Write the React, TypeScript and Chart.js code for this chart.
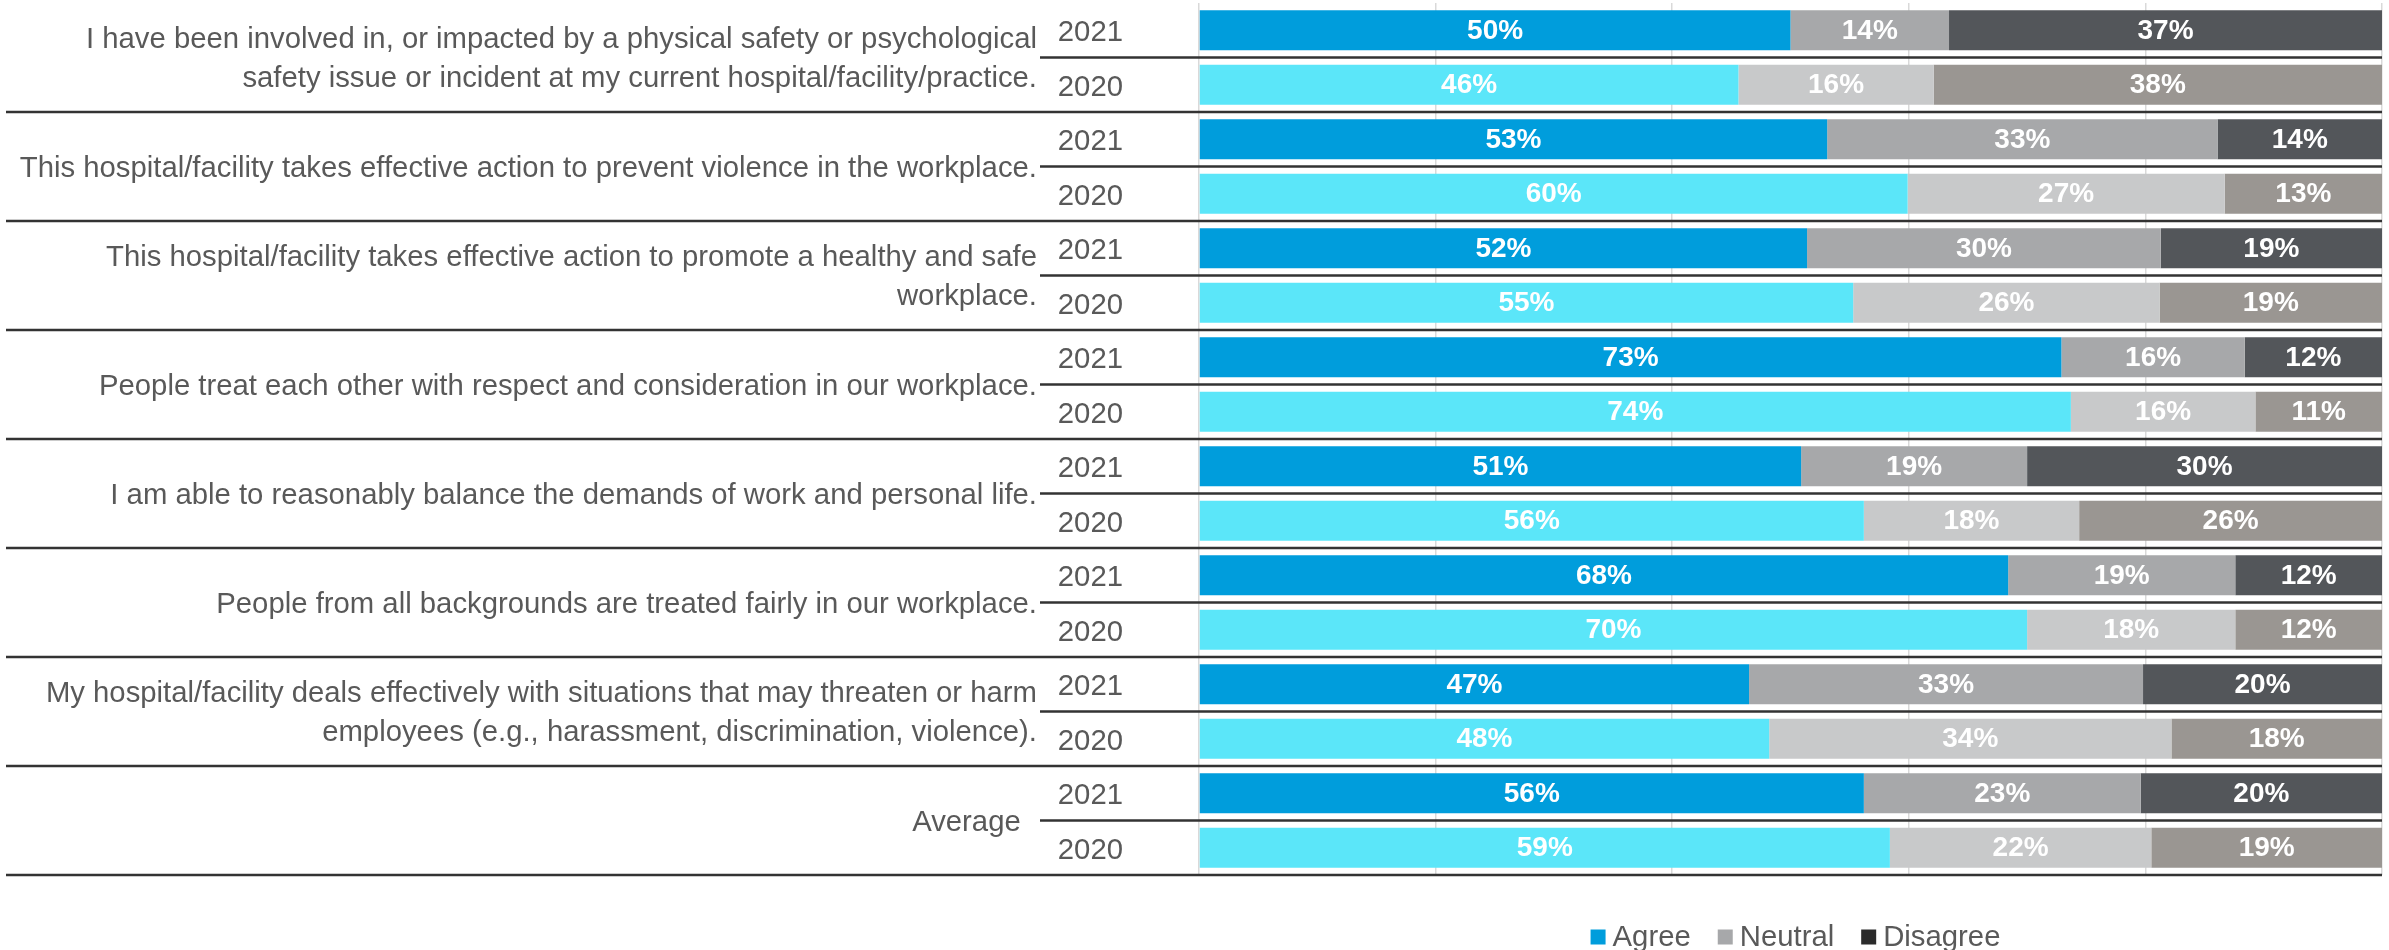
import React, { useEffect, useRef } from 'react';
import { Chart, registerables } from 'chart.js';

Chart.register(...registerables);

// ---- Data ----
const questions: string[][] = [
  ['I have been involved in, or impacted by a physical safety or psychological', 'safety issue or incident at my current hospital/facility/practice.'],
  ['This hospital/facility takes effective action to prevent violence in the workplace.'],
  ['This hospital/facility takes effective action to promote a healthy and safe', 'workplace.'],
  ['People treat each other with respect and consideration in our workplace.'],
  ['I am able to reasonably balance the demands of work and personal life.'],
  ['People from all backgrounds are treated fairly in our workplace.'],
  ['My hospital/facility deals effectively with situations that may threaten or harm', 'employees (e.g., harassment, discrimination, violence).'],
  ['Average  '],
];
const years = ['2021', '2020'];
const seriesNames = ['Agree', 'Neutral', 'Disagree'];

const agree2021 = [50.0, 53.1, 51.4, 72.9, 50.9, 68.4, 46.5, 56.2];
const neutral2021 = [13.4, 33.0, 29.9, 15.5, 19.1, 19.2, 33.3, 23.4];
const disagree2021 = [36.6, 13.9, 18.7, 11.6, 30.0, 12.4, 20.2, 20.4];
const agree2020 = [45.6, 59.9, 55.3, 73.7, 56.2, 70.0, 48.2, 58.4];
const neutral2020 = [16.5, 26.8, 25.9, 15.6, 18.2, 17.6, 34.0, 22.1];
const disagree2020 = [37.9, 13.3, 18.8, 10.7, 25.6, 12.4, 17.8, 19.5];

// printed percentage labels
const agreeLabels2021 = [50, 53, 52, 73, 51, 68, 47, 56];
const neutralLabels2021 = [14, 33, 30, 16, 19, 19, 33, 23];
const disagreeLabels2021 = [37, 14, 19, 12, 30, 12, 20, 20];
const agreeLabels2020 = [46, 60, 55, 74, 56, 70, 48, 59];
const neutralLabels2020 = [16, 27, 26, 16, 18, 18, 34, 22];
const disagreeLabels2020 = [38, 13, 19, 11, 26, 12, 18, 19];

const colors2021 = ['#009DDC', '#A7A8AA', '#53565A'];
const colors2020 = ['#5BE6F9', '#C8C9CA', '#9A9692'];
const legendColors = ['#009DDC', '#A7A8AA', '#2B2B2B'];

const FONT = '"Liberation Sans", Arial, sans-serif';
const TEXT = '#595959';
const FS = 29.3;

const interleave = (a: number[], b: number[]) => a.flatMap((v, i) => [v, b[i]]);

const values = [
  interleave(agree2021, agree2020),
  interleave(neutral2021, neutral2020),
  interleave(disagree2021, disagree2020),
];
const printed = [
  interleave(agreeLabels2021, agreeLabels2020),
  interleave(neutralLabels2021, neutralLabels2020),
  interleave(disagreeLabels2021, disagreeLabels2020),
];
const categoryLabels = questions.flatMap(() => years);

const overlay = {
  id: 'overlay',
  afterDatasetsDraw(chart: any) {
    const ctx = chart.ctx;
    ctx.save();
    ctx.font = `bold 28px ${FONT}`;
    ctx.fillStyle = '#FFFFFF';
    ctx.textAlign = 'center';
    ctx.textBaseline = 'middle';
    chart.data.datasets.forEach((ds: any, di: number) => {
      const meta = chart.getDatasetMeta(di);
      meta.data.forEach((el: any, i: number) => {
        const cx = (el.x + el.base) / 2;
        ctx.fillText(`${printed[di][i]}%`, cx, el.y + 1);
      });
    });
    ctx.restore();
  },
  afterDraw(chart: any) {
    const ctx = chart.ctx;
    const y = chart.scales.y;
    const area = chart.chartArea;
    const step = y.getPixelForValue(1) - y.getPixelForValue(0);
    ctx.save();
    ctx.strokeStyle = '#333333';
    ctx.lineWidth = 2.5;
    questions.forEach((lines, k) => {
      const y0 = y.getPixelForValue(2 * k);
      const y1 = y.getPixelForValue(2 * k + 1);
      const mid = (y0 + y1) / 2;
      const bottom = y1 + step / 2;
      ctx.beginPath();
      ctx.moveTo(1040, mid);
      ctx.lineTo(area.right, mid);
      ctx.stroke();
      ctx.beginPath();
      ctx.moveTo(6, bottom);
      ctx.lineTo(area.right, bottom);
      ctx.stroke();
      ctx.fillStyle = TEXT;
      ctx.font = `${FS}px ${FONT}`;
      ctx.textAlign = 'right';
      ctx.textBaseline = 'middle';
      const lh = 39;
      const startY = mid + 2 - ((lines.length - 1) * lh) / 2;
      lines.forEach((t, li) => ctx.fillText(t, 1037, startY + li * lh));
    });
    // legend
    ctx.font = `${FS}px ${FONT}`;
    ctx.textBaseline = 'middle';
    ctx.textAlign = 'left';
    const sq = 15, gap = 7, itemGap = 27;
    const widths = seriesNames.map((n) => ctx.measureText(n).width);
    const total = widths.reduce((s, w) => s + sq + gap + w, 0) + itemGap * (seriesNames.length - 1);
    let x = (area.left + area.right) / 2 + 5 - total / 2;
    const ly = 937;
    seriesNames.forEach((n, i) => {
      ctx.fillStyle = legendColors[i];
      ctx.fillRect(x, ly - sq / 2, sq, sq);
      x += sq + gap;
      ctx.fillStyle = TEXT;
      ctx.fillText(n, x, ly + 1);
      x += widths[i] + itemGap;
    });
    ctx.restore();
  },
};

export default function App() {
  const ref = useRef<HTMLCanvasElement | null>(null);
  useEffect(() => {
    document.body.style.margin = '0';
    if (!ref.current) return;
    const chart = new Chart(ref.current, {
      type: 'bar',
      data: {
        labels: categoryLabels,
        datasets: seriesNames.map((name, si) => ({
          label: name,
          data: values[si],
          backgroundColor: values[si].map((_, i) => (i % 2 === 0 ? colors2021[si] : colors2020[si])),
          borderWidth: 0,
          barPercentage: 0.73,
          categoryPercentage: 1,
        })),
      },
      options: {
        indexAxis: 'y',
        responsive: false,
        animation: false,
        layout: { padding: { top: 3, bottom: 75, left: 1059, right: 7 } },
        plugins: {
          legend: { display: false },
          tooltip: { enabled: false },
        },
        scales: {
          x: {
            stacked: true,
            min: 0,
            max: 100,
            ticks: { display: false, stepSize: 20 },
            grid: { color: '#D9D9D9', lineWidth: 1.5, drawTicks: false },
            border: { display: false },
          },
          y: {
            stacked: true,
            afterFit: (scale: any) => {
              scale.width = 140;
              scale.paddingTop = 0;
              scale.paddingBottom = 0;
            },
            ticks: {
              padding: 76,
              labelOffset: 3,
              color: TEXT,
              font: { family: FONT, size: FS },
            },
            grid: { display: false, drawTicks: false },
            border: { display: false },
          },
        },
      },
      plugins: [overlay],
    });
    return () => chart.destroy();
  }, []);
  return (
    <div style={{ width: 2389, height: 950 }}>
      <canvas ref={ref} width={2389} height={950} />
    </div>
  );
}
